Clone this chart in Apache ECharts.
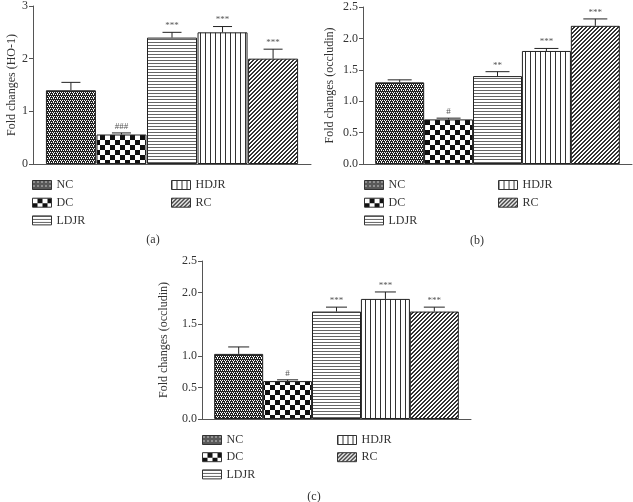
<!DOCTYPE html>
<html><head><meta charset="utf-8">
<script src="https://cdn.jsdelivr.net/npm/echarts@6/dist/echarts.min.js"></script>
<style>html,body{margin:0;padding:0;background:#fff}#c{width:633px;height:502px}</style>
</head><body><div id="c"></div>
<script>
const groups = ['NC', 'DC', 'LDJR', 'HDJR', 'RC'];
// panel (a): HO-1
const valuesA = [1.40, 0.56, 2.40, 2.50, 2.00];
const errorsA = [0.15, 0.03, 0.10, 0.11, 0.18];
const marksA = ['', '###', '***', '***', '***'];
// panel (b): occludin
const valuesB = [1.30, 0.71, 1.40, 1.80, 2.20];
const errorsB = [0.04, 0.02, 0.07, 0.04, 0.11];
const marksB = ['', '#', '**', '***', '***'];
// panel (c): occludin
const valuesC = [1.03, 0.60, 1.70, 1.90, 1.70];
const errorsC = [0.11, 0.02, 0.07, 0.11, 0.07];
const marksC = ['', '#', '***', '***', '***'];
const yNames = ['Fold changes (HO-1)', 'Fold changes (occludin)', 'Fold changes (occludin)'];
const panelTitles = ['(a)', '(b)', '(c)'];

const FONT = 'Liberation Serif';

function makePattern(kind) {
  const c = document.createElement('canvas');
  let w = 4, h = 4;
  if (kind === 'DC') { w = 10; h = 10; }
  if (kind === 'LDJR') { w = 4; h = 3; }
  if (kind === 'HDJR') { w = 5; h = 4; }
  c.width = w; c.height = h;
  const g = c.getContext('2d');
  if (kind === 'NC') {
    g.fillStyle = '#222'; g.fillRect(0, 0, w, h);
    g.fillStyle = '#fff';
    [[0, 0], [2, 0], [1, 2], [3, 2], [1, 1]].forEach(([x, y]) => g.fillRect(x, y, 1, 1));
    return { image: c, repeat: 'repeat' };
  }
  g.fillStyle = '#fff'; g.fillRect(0, 0, w, h);
  if (kind === 'DC') {
    g.fillStyle = '#111';
    g.fillRect(5, 0, 5, 5); g.fillRect(0, 5, 5, 5);
  } else if (kind === 'LDJR') {
    g.fillStyle = '#666'; g.fillRect(0, 0, w, 1);
  } else if (kind === 'HDJR') {
    g.fillStyle = '#333'; g.fillRect(0, 0, 1, h);
  } else if (kind === 'RC') {
    g.fillStyle = '#333';
    for (let y = 0; y < h; y++) for (let x = 0; x < w; x++) {
      const k = (x + y) % 4; if (k === 0 || k === 1) g.fillRect(x, y, 1, 1);
    }
  }
  return { image: c, repeat: 'repeat' };
}
const patterns = {};
groups.forEach(gname => patterns[gname] = makePattern(gname));

const panels = [
  { vals: valuesA, errs: errorsA, marks: marksA, max: 3, interval: 1, dec: 0,
    grid: { left: 33, top: 4, width: 278, height: 160 }, barW: 50, cap: 19, nameGap: 14 },
  { vals: valuesB, errs: errorsB, marks: marksB, max: 2.5, interval: 0.5, dec: 1,
    grid: { left: 363, top: 7, width: 269, height: 157 }, barW: 49, cap: 24, nameGap: 27 },
  { vals: valuesC, errs: errorsC, marks: marksC, max: 2.5, interval: 0.5, dec: 1,
    grid: { left: 202, top: 261, width: 269, height: 158 }, barW: 49, cap: 21, nameGap: 32 }
];

const grid = [], xAxis = [], yAxis = [], series = [];
panels.forEach((p, k) => {
  grid.push(p.grid);
  xAxis.push({ type: 'value', gridIndex: k, min: -0.75, max: 4.75,
    axisLine: { show: true, onZero: false, lineStyle: { color: '#555', width: 1 } },
    axisTick: { show: false }, axisLabel: { show: false }, splitLine: { show: false } });
  yAxis.push({ type: 'value', gridIndex: k, min: 0, max: p.max, interval: p.interval,
    name: yNames[k], nameLocation: 'middle', nameGap: p.nameGap,
    nameTextStyle: { fontFamily: FONT, fontSize: 12, color: '#333' },
    axisLine: { show: true, onZero: false, lineStyle: { color: '#555', width: 1 } },
    axisTick: { show: true, length: 4, lineStyle: { color: '#555' } },
    axisLabel: { fontFamily: FONT, fontSize: 12, color: '#333', margin: 5,
      formatter: v => v.toFixed(p.dec) },
    splitLine: { show: false } });
  groups.forEach((gname, i) => {
    series.push({ type: 'bar', name: gname, xAxisIndex: k, yAxisIndex: k,
      barWidth: p.barW, barGap: '-100%',
      itemStyle: { color: patterns[gname], borderColor: '#222', borderWidth: 1 },
      data: [[i, p.vals[i]]], silent: true, animation: false });
  });
  series.push({ type: 'custom', xAxisIndex: k, yAxisIndex: k, animation: false, silent: true,
    data: p.vals.map((v, i) => [i, v, p.errs[i]]), z: 5,
    renderItem: (params, api) => {
      const x = api.value(0), v = api.value(1), e = api.value(2);
      const a = api.coord([x, v]), b = api.coord([x, v + e]);
      const st = { stroke: '#222', lineWidth: 1 };
      return { type: 'group', children: [
        { type: 'line', shape: { x1: a[0], y1: a[1], x2: b[0], y2: b[1] }, style: st },
        { type: 'line', shape: { x1: b[0] - p.cap / 2, y1: b[1], x2: b[0] + p.cap / 2, y2: b[1] }, style: st },
        { type: 'text', style: { text: p.marks[params.dataIndex], x: b[0], y: b[1] - 2,
          textAlign: 'center', textVerticalAlign: 'bottom', fontFamily: FONT, fontSize: 9, fill: '#555' } }
      ] };
    } });
});

const legStyle = { fontFamily: FONT, fontSize: 12, color: '#333', lineHeight: 12 };
const legendPos = [
  { l1: 32, l2: 171, top: 179 },
  { l1: 364, l2: 498, top: 179 },
  { l1: 202, l2: 337, top: 434 }
];
const legend = [];
legendPos.forEach((lp, k) => {
  const gap = k === 2 ? 5.2 : 5.7;
  legend.push({ orient: 'vertical', left: lp.l1, top: lp.top, padding: 0, itemWidth: 19, itemHeight: 9,
    itemGap: gap, icon: 'rect', textStyle: legStyle, selectedMode: false, data: groups.slice(0, 3),
    itemStyle: { borderWidth: 1, borderColor: '#333' } });
  legend.push({ orient: 'vertical', left: lp.l2, top: lp.top, padding: 0, itemWidth: 19, itemHeight: 9,
    itemGap: gap, icon: 'rect', textStyle: legStyle, selectedMode: false, data: groups.slice(3),
    itemStyle: { borderWidth: 1, borderColor: '#333' } });
});

const titlePos = [[153, 234], [477, 235], [314, 491]];
const title = panelTitles.map((t, k) => ({ text: t, left: titlePos[k][0], top: titlePos[k][1], padding: 0,
  textAlign: 'center', textStyle: { fontFamily: FONT, fontSize: 12, fontWeight: 'normal', color: '#333' } }));

const chart = echarts.init(document.getElementById('c'), null, { renderer: 'canvas' });
chart.setOption({ animation: false, backgroundColor: '#fff', title, legend, grid, xAxis, yAxis, series });
</script></body></html>
